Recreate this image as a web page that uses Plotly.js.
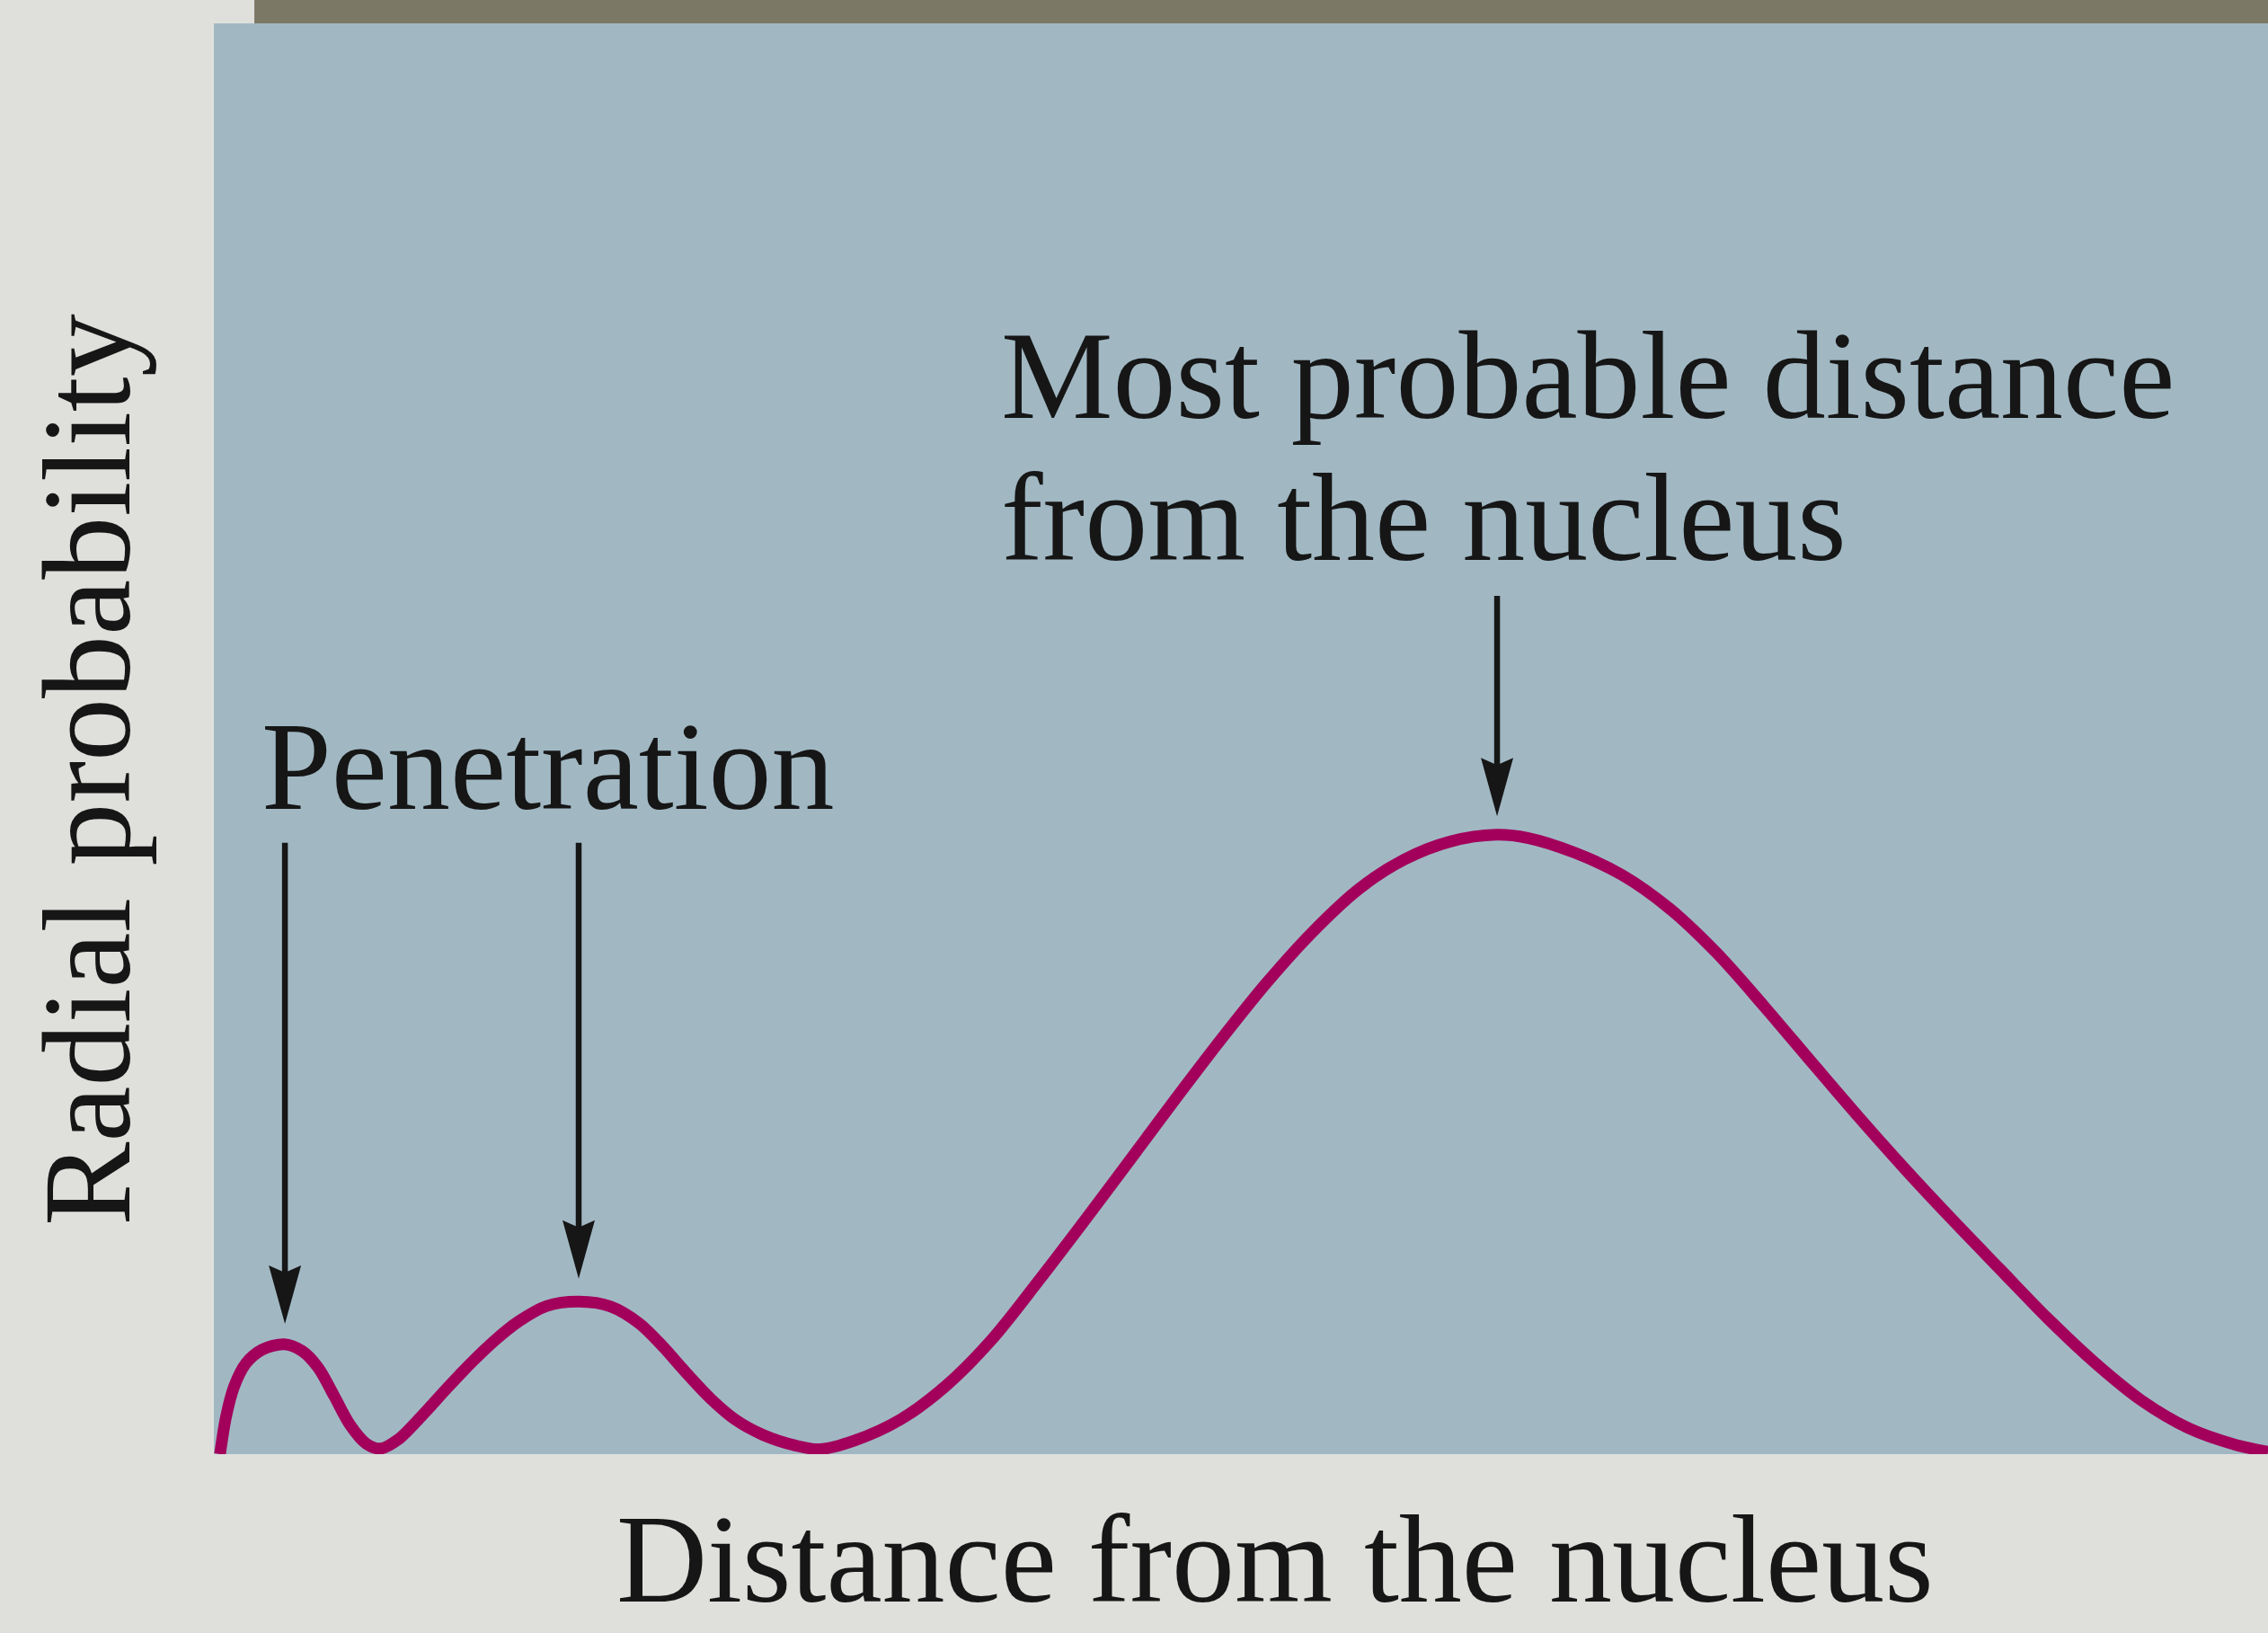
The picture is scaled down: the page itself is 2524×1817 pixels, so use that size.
<!DOCTYPE html>
<html>
<head>
<meta charset="utf-8">
<script src="https://cdn.plot.ly/plotly-3.0.1.min.js"></script>
<style>
html, body { margin: 0; padding: 0; background: #dfe0dc; }
#chart { width: 2524px; height: 1817px; }
</style>
</head>
<body>
<div id="chart"></div>
<script>
// ---- Data ----
const distance = [0.03, 0.059, 0.098, 0.156, 0.234, 0.342, 0.430, 0.508, 0.586, 0.664, 0.742, 0.811, 0.898, 1.015, 1.133, 1.250, 1.367, 1.484, 1.621, 1.777, 1.933, 2.070, 2.187, 2.304, 2.421, 2.538, 2.675, 2.831, 2.950, 3.119, 3.342, 3.565, 3.788, 4.011, 4.234, 4.457, 4.681, 4.904, 5.127, 5.350, 5.573, 5.796, 6.019, 6.243, 6.395, 6.625, 6.855, 7.085, 7.315, 7.545, 7.775, 8.005, 8.235, 8.465, 8.694, 8.924, 9.154, 9.384, 9.614, 9.844, 10.0];
const radialProbability = [0, 0.060, 0.109, 0.147, 0.169, 0.178, 0.167, 0.140, 0.094, 0.047, 0.017, 0.009, 0.024, 0.063, 0.106, 0.147, 0.184, 0.215, 0.240, 0.247, 0.239, 0.212, 0.174, 0.130, 0.089, 0.056, 0.031, 0.014, 0.008, 0.022, 0.056, 0.111, 0.186, 0.279, 0.376, 0.475, 0.575, 0.672, 0.764, 0.846, 0.915, 0.963, 0.992, 1.003, 0.998, 0.974, 0.938, 0.884, 0.812, 0.726, 0.636, 0.547, 0.461, 0.379, 0.300, 0.221, 0.149, 0.087, 0.042, 0.015, 0.004];

// Arrows pointing at the three maxima
const arrowX = [0.346, 1.776, 6.247];
const arrowTailY = [0.99, 0.99, 1.39];
const arrowTipY = [0.211, 0.284, 1.033];

// Texts
const xTitle = 'Distance from the nucleus';
const yTitle = 'Radial probability';
const penetrationLabel = 'Penetration';
const mostProbableLines = ['Most probable distance', 'from the nucleus'];

// ---- Styling ----
const FONT = 'Liberation Serif, Times New Roman, Times, serif';
const TEXT_COLOR = '#161616';
const CURVE_COLOR = '#a3005c';
const textFont = { family: FONT, size: 140, color: TEXT_COLOR };

const trace = {
  type: 'scatter',
  mode: 'lines',
  x: distance,
  y: radialProbability,
  line: { color: CURVE_COLOR, width: 13, shape: 'spline', smoothing: 0.9 },
  hoverinfo: 'skip'
};

const shapes = [
  // dark band above the plotting area
  { type: 'rect', xref: 'paper', yref: 'paper', x0: 0.0197, x1: 1.01, y0: 1.0, y1: 1.03,
    fillcolor: '#7b7866', line: { width: 0 }, layer: 'above' }
];
arrowX.forEach(function (ax, i) {
  shapes.push({
    type: 'line', xref: 'x', yref: 'y',
    x0: ax, x1: ax, y0: arrowTailY[i], y1: arrowTipY[i] + 0.05,
    line: { color: TEXT_COLOR, width: 6.5 }, layer: 'above'
  });
  shapes.push({
    type: 'path', xref: 'x', yref: 'y',
    xsizemode: 'pixel', ysizemode: 'pixel',
    xanchor: ax, yanchor: arrowTipY[i],
    path: 'M0,0 L-18,65 L0,57 L18,65 Z',
    fillcolor: TEXT_COLOR, line: { width: 0 }, layer: 'above'
  });
});

const annotations = [
  { xref: 'x', yref: 'y', x: 0.223, y: 1.114, xanchor: 'left', yanchor: 'middle',
    text: penetrationLabel, showarrow: false, font: textFont },
  { xref: 'x', yref: 'y', x: 3.823, y: 1.747, xanchor: 'left', yanchor: 'middle',
    text: mostProbableLines[0], showarrow: false, font: textFont },
  { xref: 'x', yref: 'y', x: 3.823, y: 1.517, xanchor: 'left', yanchor: 'middle',
    text: mostProbableLines[1], showarrow: false, font: textFont },
  // axis titles
  { xref: 'paper', yref: 'paper', x: 0.5166, y: -0.1232, xanchor: 'center', yanchor: 'bottom',
    text: xTitle, showarrow: false, font: textFont },
  { xref: 'paper', yref: 'paper', x: -0.0621, y: 0.478, xanchor: 'center', yanchor: 'middle',
    text: yTitle, textangle: -90, showarrow: false, font: textFont }
];

const axisCommon = {
  showgrid: false, zeroline: false, showticklabels: false, ticks: '', showline: false, fixedrange: true
};

const layout = {
  width: 2524,
  height: 1817,
  margin: { l: 238, r: 0, t: 26, b: 199, pad: 0 },
  paper_bgcolor: '#dfe0dc',
  plot_bgcolor: '#a1b8c3',
  showlegend: false,
  font: { family: FONT, color: TEXT_COLOR, size: 140 },
  xaxis: Object.assign({}, axisCommon, { range: [0, 10] }),
  yaxis: Object.assign({}, axisCommon, { range: [0, 2.317] }),
  shapes: shapes,
  annotations: annotations
};

Plotly.newPlot('chart', [trace], layout, { displayModeBar: false, staticPlot: true });
</script>
</body>
</html>
